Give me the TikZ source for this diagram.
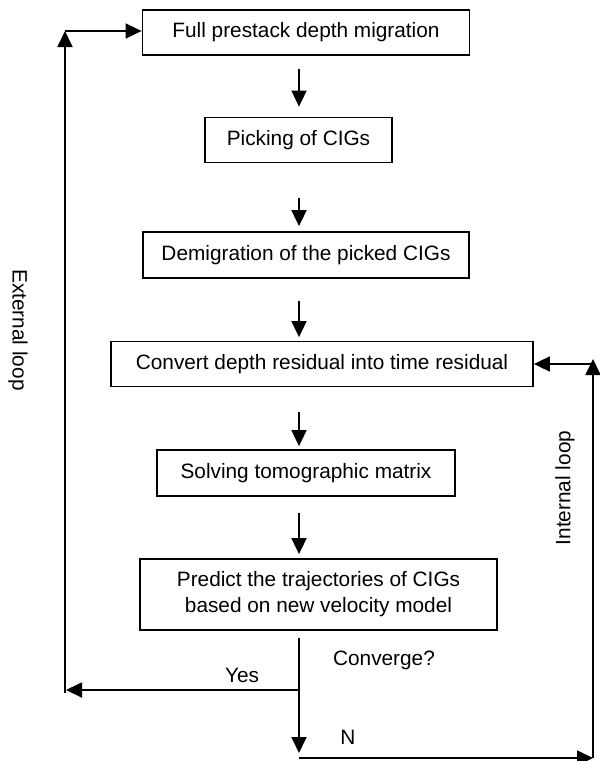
\documentclass[tikz,border=0pt]{standalone}
\usepackage{fontspec}
\setmainfont{Liberation Sans}
\usetikzlibrary{arrows.meta}
\begin{document}
\begin{tikzpicture}[x=1pt,y=-1pt,
  box/.style={draw, line width=1.8pt, inner sep=0pt, align=center, font=\fontsize{20.8}{26}\selectfont},
  arr/.style={line width=1.8pt, -{Triangle[length=16pt,width=15pt]}},
  lbl/.style={inner sep=0pt, font=\fontsize{20.8}{26}\selectfont}]
\useasboundingbox (0,0) rectangle (600,761);
\node[box, minimum width=327pt, minimum height=45pt] (b1) at (306,32.5) {Full prestack depth migration};
\node[box, minimum width=187pt, minimum height=45pt] (b2) at (298.5,140) {Picking of CIGs};
\node[box, minimum width=326pt, minimum height=46pt] (b3) at (306,255) {Demigration of the picked CIGs};
\node[box, minimum width=422pt, minimum height=45pt] (b4) at (322,364) {Convert depth residual into time residual};
\node[box, minimum width=298pt, minimum height=46pt] (b5) at (306,473) {Solving tomographic matrix};
\node[box, minimum width=357pt, minimum height=71pt] (b6) at (318.5,594.5) {Predict the trajectories of CIGs\\based on new velocity model};
\coordinate (c) at (299,0);
\draw[arr, shorten <=13pt, shorten >=10pt] (b1.south -| c) -- (b2.north -| c);
\draw[arr, shorten <=35pt, shorten >=5pt] (b2.south -| c) -- (b3.north -| c);
\draw[arr, shorten <=22pt, shorten >=3.5pt] (b3.south -| c) -- (b4.north -| c);
\draw[arr, shorten <=25pt, shorten >=3pt] (b4.south -| c) -- (b5.north -| c);
\draw[arr, shorten <=16pt, shorten >=4pt] (b5.south -| c) -- (b6.north -| c);
% bottom
\coordinate (bot) at (299,753);
\coordinate (yes) at (299,690);
\coordinate (yl) at (66,690);
\draw[arr, shorten <=7pt] (b6.south -| c) -- (bot);
\draw[arr] (yes) -- (yl);
% external loop
\coordinate (el) at (65,693);
\coordinate (etop) at (65,31);
\draw[arr] (el) -- (etop);
\draw[arr] (etop) -- (b1.west |- etop);
% internal loop
\coordinate (nl) at (299,758);
\coordinate (nr) at (593,758);
\coordinate (ir) at (593,359);
\draw[arr] (nl) -- (nr);
\draw[arr] (nr) -- (ir);
\draw[arr] (ir |- b4.east) -- (b4.east);
% labels
\node[lbl] (yesl) at (242,675) {Yes};
\node[lbl] (conv) at (384,660) {Converge?};
\node[lbl] (nlbl) at (348,737) {N};
\node[lbl, rotate=-90] (ext) at (18,330) {External loop};
\node[lbl, rotate=90] (int) at (565,488) {Internal loop};
\end{tikzpicture}
\end{document}
